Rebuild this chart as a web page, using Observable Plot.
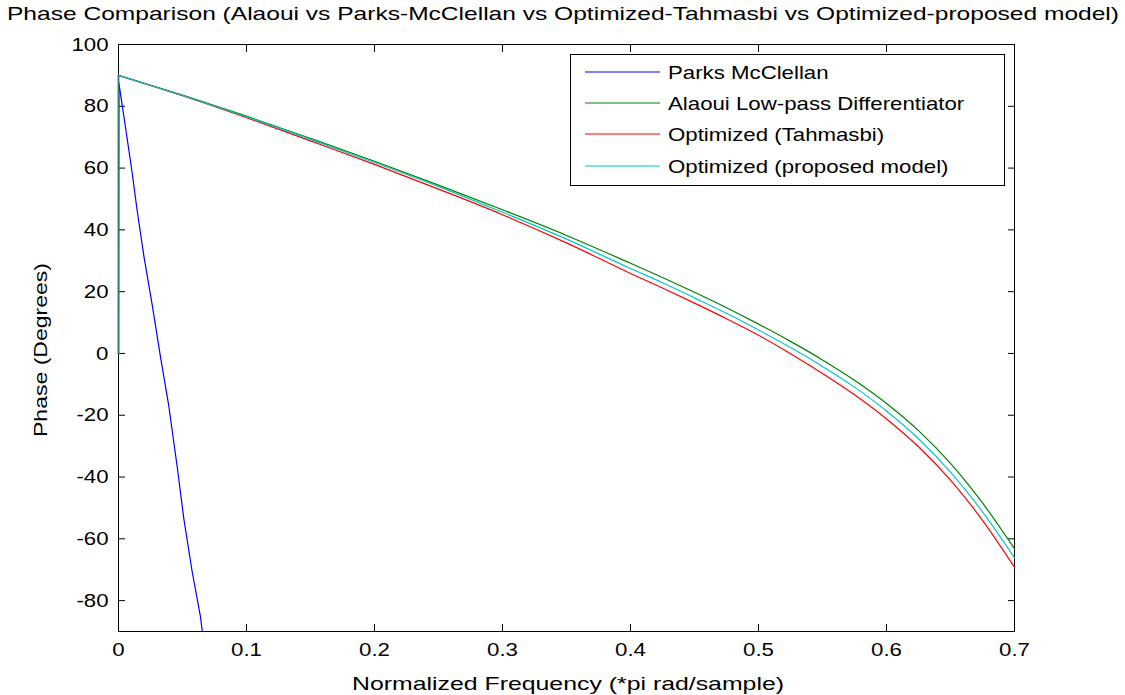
<!DOCTYPE html>
<html>
<head>
<meta charset="utf-8">
<script src="https://cdn.jsdelivr.net/npm/d3@7"></script>
<script src="https://cdn.jsdelivr.net/npm/@observablehq/plot@0.6"></script>
<style>
  html, body { margin: 0; padding: 0; background: white; }
</style>
</head>
<body>
<div id="chart"></div>
<script>
// ---- data ----
const titleText = "Phase Comparison (Alaoui vs Parks-McClellan vs Optimized-Tahmasbi vs Optimized-proposed model)";
const xLabelText = "Normalized Frequency (*pi rad/sample)";
const yLabelText = "Phase (Degrees)";

const xTicks = [0, 0.1, 0.2, 0.3, 0.4, 0.5, 0.6, 0.7];
const xTickLabels = ["0", "0.1", "0.2", "0.3", "0.4", "0.5", "0.6", "0.7"];
const yTicks = [-80, -60, -40, -20, 0, 20, 40, 60, 80, 100];
const yTickLabels = ["-80", "-60", "-40", "-20", "0", "20", "40", "60", "80", "100"];

const seriesNames = ["Parks McClellan", "Alaoui Low-pass Differentiator", "Optimized (Tahmasbi)", "Optimized (proposed model)"];
const seriesColors = ["#0000ff", "#008000", "#ff0000", "#00c8c8"];

// Parks McClellan
const pmFreq  = [0, 0.0003, 0.0060, 0.0107, 0.0146, 0.0198, 0.0263, 0.0328, 0.0393, 0.0458, 0.0510, 0.0575, 0.0640, 0.0655];
const pmPhase = [0, 87.5,   71.7,   58.4,   46.2,   31.6,   15.8,   -1.1,   -17.0,  -36.5,  -53.4,  -70.5,  -85.1,  -90.0];

// three optimized / Alaoui designs share a frequency grid
const freq     = [0, 0.05, 0.1, 0.15, 0.2, 0.25, 0.3, 0.35, 0.4, 0.425, 0.45, 0.475, 0.5, 0.525, 0.55, 0.575, 0.6, 0.625, 0.65, 0.675, 0.7];
const alaoui   = [90, 83.6, 76.8, 69.6, 62.2, 54.5, 46.5, 38.2, 29.2, 24.6, 19.8, 14.8, 9.5, 3.9, -2.1, -8.7, -16.2, -25.0, -35.6, -48.4, -63.2];
const tahmasbi = [90, 83.4, 76.3, 68.8, 61.2, 53.2, 44.9, 35.8, 25.9, 21.2, 16.3, 11.25, 5.9, -0.1, -6.5, -13.4, -21.2, -30.2, -41.0, -54.0, -69.2];
const proposed = [90, 83.5, 76.6, 69.3, 61.8, 54.0, 45.7, 37.0, 27.5, 22.9, 18.0, 13.0, 7.6, 1.9, -4.2, -10.9, -18.6, -27.6, -38.4, -51.3, -66.2];
const dcPhase  = 0; // phase value at exactly f = 0

// ---- build tables ----
const pmData = pmFreq.map((f, i) => ({f, v: pmPhase[i]}));
const mk = arr => freq.map((f, i) => ({f, v: arr[i]}));
const dcSeg = arr => [{f: freq[0], v: dcPhase}, {f: freq[0], v: arr[0]}];

const FONT = "'Liberation Sans', Arial, Helvetica, sans-serif";
const STRETCH = 1.17;

const plot = Plot.plot({
  width: 1125,
  height: 695,
  marginLeft: 118,
  marginRight: 111,
  marginTop: 44,
  marginBottom: 64,
  style: {fontFamily: FONT, fontSize: "19px", color: "black", background: "white", overflow: "visible"},
  x: {domain: [0, 0.7], ticks: xTicks},
  y: {domain: [-90, 100], ticks: yTicks},
  marks: [
    Plot.frame({stroke: "black", strokeWidth: 1}),
    Plot.axisX(xTicks, {anchor: "bottom", tickSize: -7, tickPadding: 18, label: null,
      tickFormat: d => xTickLabels[xTicks.indexOf(d)], fontSize: 19, fill: "black", stroke: "black"}),
    Plot.axisX(xTicks, {anchor: "top", tickSize: -7, label: null, tickFormat: () => "", stroke: "black"}),
    Plot.axisY(yTicks, {anchor: "left", tickSize: -7, tickPadding: 17, label: null,
      tickFormat: d => yTickLabels[yTicks.indexOf(d)], fontSize: 19, fill: "black", stroke: "black"}),
    Plot.axisY(yTicks, {anchor: "right", tickSize: -7, label: null, tickFormat: () => "", stroke: "black"}),
    Plot.line(pmData, {x: "f", y: "v", stroke: seriesColors[0], strokeWidth: 1.2}),
    Plot.line(mk(alaoui), {x: "f", y: "v", stroke: seriesColors[1], strokeWidth: 1.2, curve: "monotone-x"}),
    Plot.line(dcSeg(alaoui), {x: "f", y: "v", stroke: seriesColors[1], strokeWidth: 1.2}),
    Plot.line(mk(tahmasbi), {x: "f", y: "v", stroke: seriesColors[2], strokeWidth: 1.2, curve: "monotone-x"}),
    Plot.line(dcSeg(tahmasbi), {x: "f", y: "v", stroke: seriesColors[2], strokeWidth: 1.2}),
    Plot.line(mk(proposed), {x: "f", y: "v", stroke: seriesColors[3], strokeWidth: 1.2, curve: "monotone-x"}),
    Plot.line(dcSeg(proposed), {x: "f", y: "v", stroke: "#2f7f7f", strokeWidth: 1.6})
  ]
});

document.getElementById("chart").appendChild(plot);
const svg = d3.select(plot);

// tick label text: no stroke
svg.selectAll("g[aria-label='x-axis tick label'], g[aria-label='y-axis tick label']")
  .attr("stroke", "none");
svg.selectAll("g[aria-label='x-axis tick label'] text, g[aria-label='y-axis tick label'] text")
  .attr("stroke", "none");

// title
svg.append("text")
  .attr("x", 563).attr("y", 20)
  .attr("text-anchor", "middle")
  .attr("font-family", FONT).attr("font-size", 19)
  .attr("fill", "black")
  .attr("textLength", 1112).attr("lengthAdjust", "spacingAndGlyphs")
  .text(titleText);

// x label
svg.append("text")
  .attr("x", 568).attr("y", 690)
  .attr("text-anchor", "middle")
  .attr("font-family", FONT).attr("font-size", 19)
  .attr("fill", "black")
  .attr("textLength", 432).attr("lengthAdjust", "spacingAndGlyphs")
  .text(xLabelText);

// y label
svg.append("text")
  .attr("transform", "translate(47,350) rotate(-90)")
  .attr("text-anchor", "middle")
  .attr("font-family", FONT).attr("font-size", 19)
  .attr("fill", "black")
  .attr("textLength", 174).attr("lengthAdjust", "spacingAndGlyphs")
  .text(yLabelText);

// legend
const lg = svg.append("g").attr("text-anchor", "start");
lg.append("rect")
  .attr("x", 570.5).attr("y", 54.5).attr("width", 434).attr("height", 131)
  .attr("fill", "white").attr("stroke", "black").attr("stroke-width", 1);
const rowY = [72, 103, 134, 166];
seriesNames.forEach((name, i) => {
  lg.append("line")
    .attr("x1", 585).attr("x2", 660).attr("y1", rowY[i]).attr("y2", rowY[i])
    .attr("stroke", seriesColors[i]).attr("stroke-width", 1.2);
  lg.append("text")
    .attr("x", 668).attr("y", rowY[i] + 7)
    .attr("text-anchor", "start")
    .attr("font-family", FONT).attr("font-size", 19).attr("fill", "black")
    .attr("class", "stretch")
    .text(name);
});

// horizontal stretch of tick labels and legend entries to match the reference
svg.selectAll("g[aria-label='x-axis tick label'] text, g[aria-label='y-axis tick label'] text, text.stretch")
  .each(function() {
    const len = this.getComputedTextLength();
    if (len > 0) {
      this.setAttribute("textLength", (len * STRETCH).toFixed(1));
      this.setAttribute("lengthAdjust", "spacingAndGlyphs");
    }
  });
</script>
</body>
</html>
